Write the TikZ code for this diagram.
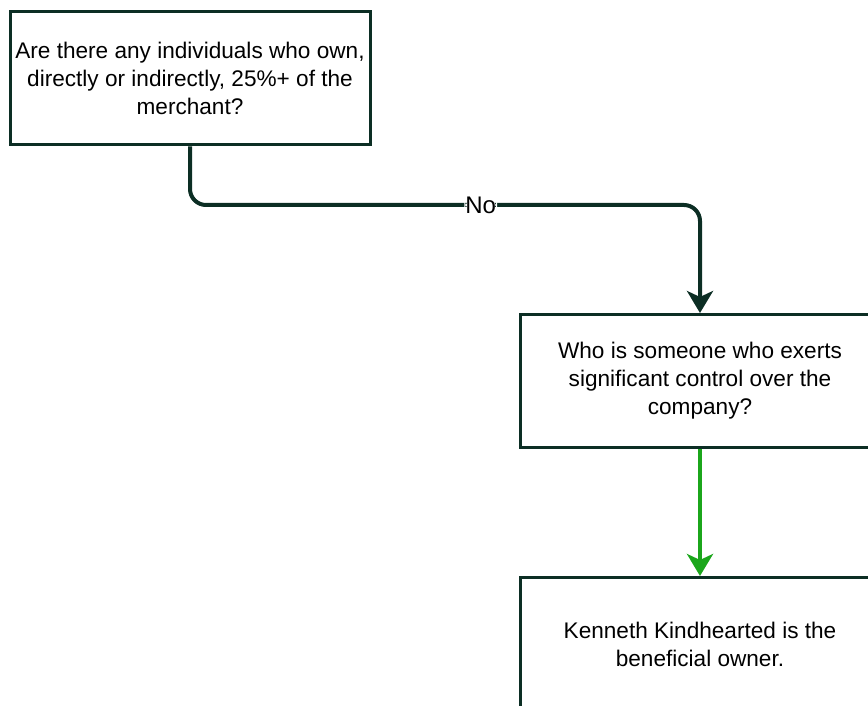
\documentclass[tikz,border=0pt]{standalone}
\usepackage{fontspec}
\setmainfont{Liberation Sans}
\usetikzlibrary{arrows.meta}

\definecolor{boxline}{RGB}{12,46,36}
\definecolor{yesline}{RGB}{27,166,27}

\tikzset{
  qbox/.style={draw=boxline, line width=3pt, fill=white, minimum width=360pt,
    minimum height=133pt, align=center, inner sep=0pt,
    font=\fontsize{22.6}{28}\selectfont},
  flow/.style={draw=boxline, line width=4pt, rounded corners=16pt,
    -{Stealth[length=22pt,width=26pt,inset=6pt]}},
  yesflow/.style={draw=yesline, line width=4pt,
    -{Stealth[length=22pt,width=26pt,inset=6pt]}}
}

\begin{document}
\begin{tikzpicture}[x=1pt,y=-1pt]
\useasboundingbox (0,0) rectangle (868,706);
\clip (0,0) rectangle (868,706);

\node[qbox] (own) at (190,78.5) {Are there any individuals who own,\\directly or indirectly, 25\%+ of the\\merchant?};
\node[qbox] (control) at (700,381) {Who is someone who exerts\\significant control over the\\company?};
\node[qbox] (owner) at (700,644) {Kenneth Kindhearted is the\\beneficial owner.};

\coordinate (bend) at (190,205);
\draw[flow] (own.south) -- (bend) -- node[pos=0.57, fill=white, inner sep=1pt,
  font=\fontsize{24}{28}\selectfont] (no) {No} (bend -| control.north) -- (control.north);

\draw[yesflow] (control.south) -- (owner.north);
\end{tikzpicture}
\end{document}
